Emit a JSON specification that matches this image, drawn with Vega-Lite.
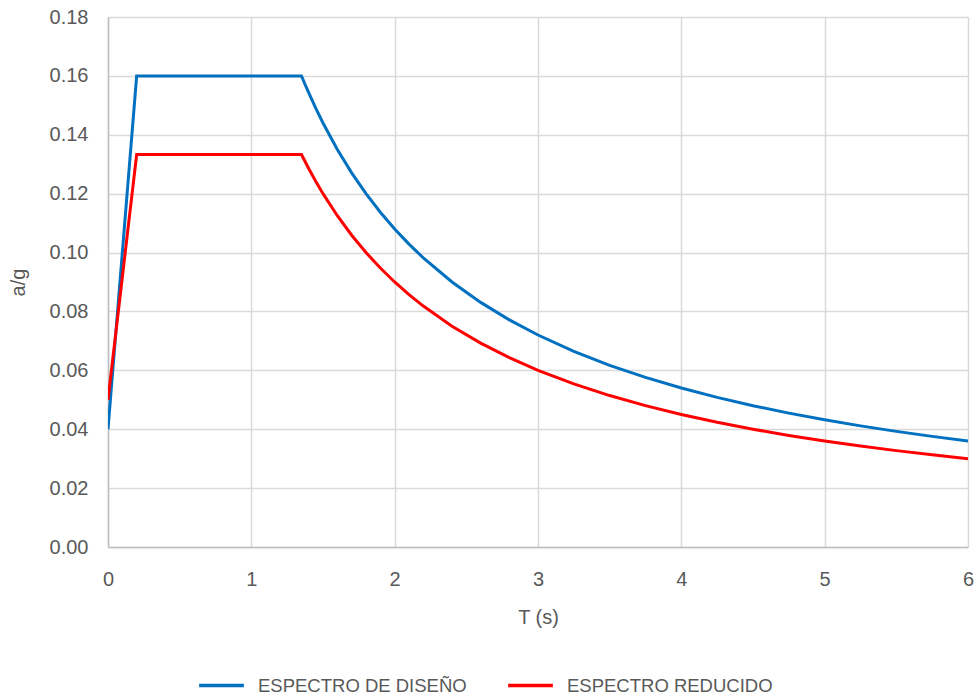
{
  "$schema": "https://vega.github.io/schema/vega-lite/v6.json",
  "autosize": {"type": "none"},
  "width": 860,
  "height": 530,
  "padding": {"left": 108, "top": 17, "right": 9, "bottom": 152},
  "background": "white",
  "config": {
    "view": {"stroke": null},
    "font": "Liberation Sans"
  },
  "data": {
    "values": [
      {"T": 0, "v": 0.04, "s": "ESPECTRO DE DISEÑO"},
      {"T": 0.2, "v": 0.16, "s": "ESPECTRO DE DISEÑO"},
      {"T": 1.35, "v": 0.16, "s": "ESPECTRO DE DISEÑO"},
      {"T": 1.375, "v": 0.15709, "s": "ESPECTRO DE DISEÑO"},
      {"T": 1.4, "v": 0.15429, "s": "ESPECTRO DE DISEÑO"},
      {"T": 1.45, "v": 0.14897, "s": "ESPECTRO DE DISEÑO"},
      {"T": 1.5, "v": 0.144, "s": "ESPECTRO DE DISEÑO"},
      {"T": 1.6, "v": 0.135, "s": "ESPECTRO DE DISEÑO"},
      {"T": 1.7, "v": 0.12706, "s": "ESPECTRO DE DISEÑO"},
      {"T": 1.8, "v": 0.12, "s": "ESPECTRO DE DISEÑO"},
      {"T": 1.9, "v": 0.11368, "s": "ESPECTRO DE DISEÑO"},
      {"T": 2.0, "v": 0.108, "s": "ESPECTRO DE DISEÑO"},
      {"T": 2.1, "v": 0.10286, "s": "ESPECTRO DE DISEÑO"},
      {"T": 2.2, "v": 0.09818, "s": "ESPECTRO DE DISEÑO"},
      {"T": 2.4, "v": 0.09, "s": "ESPECTRO DE DISEÑO"},
      {"T": 2.6, "v": 0.08308, "s": "ESPECTRO DE DISEÑO"},
      {"T": 2.8, "v": 0.07714, "s": "ESPECTRO DE DISEÑO"},
      {"T": 3.0, "v": 0.072, "s": "ESPECTRO DE DISEÑO"},
      {"T": 3.25, "v": 0.06646, "s": "ESPECTRO DE DISEÑO"},
      {"T": 3.5, "v": 0.06171, "s": "ESPECTRO DE DISEÑO"},
      {"T": 3.75, "v": 0.0576, "s": "ESPECTRO DE DISEÑO"},
      {"T": 4.0, "v": 0.054, "s": "ESPECTRO DE DISEÑO"},
      {"T": 4.25, "v": 0.05082, "s": "ESPECTRO DE DISEÑO"},
      {"T": 4.5, "v": 0.048, "s": "ESPECTRO DE DISEÑO"},
      {"T": 4.75, "v": 0.04547, "s": "ESPECTRO DE DISEÑO"},
      {"T": 5.0, "v": 0.0432, "s": "ESPECTRO DE DISEÑO"},
      {"T": 5.25, "v": 0.04114, "s": "ESPECTRO DE DISEÑO"},
      {"T": 5.5, "v": 0.03927, "s": "ESPECTRO DE DISEÑO"},
      {"T": 5.75, "v": 0.03757, "s": "ESPECTRO DE DISEÑO"},
      {"T": 6.0, "v": 0.036, "s": "ESPECTRO DE DISEÑO"},
      {"T": 0, "v": 0.05, "s": "ESPECTRO REDUCIDO"},
      {"T": 0.2, "v": 0.1333, "s": "ESPECTRO REDUCIDO"},
      {"T": 1.35, "v": 0.1333, "s": "ESPECTRO REDUCIDO"},
      {"T": 1.375, "v": 0.13091, "s": "ESPECTRO REDUCIDO"},
      {"T": 1.4, "v": 0.12857, "s": "ESPECTRO REDUCIDO"},
      {"T": 1.45, "v": 0.12414, "s": "ESPECTRO REDUCIDO"},
      {"T": 1.5, "v": 0.12, "s": "ESPECTRO REDUCIDO"},
      {"T": 1.6, "v": 0.1125, "s": "ESPECTRO REDUCIDO"},
      {"T": 1.7, "v": 0.10588, "s": "ESPECTRO REDUCIDO"},
      {"T": 1.8, "v": 0.1, "s": "ESPECTRO REDUCIDO"},
      {"T": 1.9, "v": 0.09474, "s": "ESPECTRO REDUCIDO"},
      {"T": 2.0, "v": 0.09, "s": "ESPECTRO REDUCIDO"},
      {"T": 2.1, "v": 0.08571, "s": "ESPECTRO REDUCIDO"},
      {"T": 2.2, "v": 0.08182, "s": "ESPECTRO REDUCIDO"},
      {"T": 2.4, "v": 0.075, "s": "ESPECTRO REDUCIDO"},
      {"T": 2.6, "v": 0.06923, "s": "ESPECTRO REDUCIDO"},
      {"T": 2.8, "v": 0.06429, "s": "ESPECTRO REDUCIDO"},
      {"T": 3.0, "v": 0.06, "s": "ESPECTRO REDUCIDO"},
      {"T": 3.25, "v": 0.05538, "s": "ESPECTRO REDUCIDO"},
      {"T": 3.5, "v": 0.05143, "s": "ESPECTRO REDUCIDO"},
      {"T": 3.75, "v": 0.048, "s": "ESPECTRO REDUCIDO"},
      {"T": 4.0, "v": 0.045, "s": "ESPECTRO REDUCIDO"},
      {"T": 4.25, "v": 0.04235, "s": "ESPECTRO REDUCIDO"},
      {"T": 4.5, "v": 0.04, "s": "ESPECTRO REDUCIDO"},
      {"T": 4.75, "v": 0.03789, "s": "ESPECTRO REDUCIDO"},
      {"T": 5.0, "v": 0.036, "s": "ESPECTRO REDUCIDO"},
      {"T": 5.25, "v": 0.03429, "s": "ESPECTRO REDUCIDO"},
      {"T": 5.5, "v": 0.03273, "s": "ESPECTRO REDUCIDO"},
      {"T": 5.75, "v": 0.0313, "s": "ESPECTRO REDUCIDO"},
      {"T": 6.0, "v": 0.03, "s": "ESPECTRO REDUCIDO"}
    ]
  },
  "mark": {"type": "line", "strokeWidth": 3, "interpolate": "linear", "clip": true},
  "encoding": {
    "x": {
      "field": "T", "type": "quantitative",
      "scale": {"domain": [0, 6], "nice": false},
      "axis": {
        "title": "T (s)", "values": [0, 1, 2, 3, 4, 5, 6], "format": "d",
        "grid": true, "gridColor": "#d9d9d9", "gridWidth": 1.5,
        "domainColor": "#bfbfbf", "domainWidth": 1.5, "ticks": false,
        "labelFlush": false,
        "labelPadding": 22, "labelFontSize": 20, "labelColor": "#595959",
        "titleFontSize": 20, "titleColor": "#595959", "titleFontWeight": "normal",
        "titlePadding": 18
      }
    },
    "y": {
      "field": "v", "type": "quantitative",
      "scale": {"domain": [0, 0.18], "nice": false},
      "axis": {
        "title": "a/g", "values": [0, 0.02, 0.04, 0.06, 0.08, 0.1, 0.12, 0.14, 0.16, 0.18], "format": ".2f",
        "grid": true, "gridColor": "#d9d9d9", "gridWidth": 1.5,
        "domainColor": "#bfbfbf", "domainWidth": 1.5, "ticks": false,
        "labelFlush": false,
        "labelPadding": 20, "labelFontSize": 20, "labelColor": "#595959",
        "titleFontSize": 20, "titleColor": "#595959", "titleFontWeight": "normal",
        "titlePadding": 21
      }
    },
    "color": {
      "field": "s", "type": "nominal",
      "scale": {"domain": ["ESPECTRO DE DISEÑO", "ESPECTRO REDUCIDO"], "range": ["#0070C0", "#FF0000"]},
      "legend": {
        "title": null, "orient": "none", "direction": "horizontal",
        "legendX": 89, "legendY": 644, "padding": 0,
        "symbolType": "stroke", "symbolSize": 2000, "symbolStrokeWidth": 3.5,
        "labelFontSize": 18.5, "labelColor": "#595959", "labelLimit": 400,
        "columnPadding": 34, "labelOffset": 12
      }
    }
  }
}
